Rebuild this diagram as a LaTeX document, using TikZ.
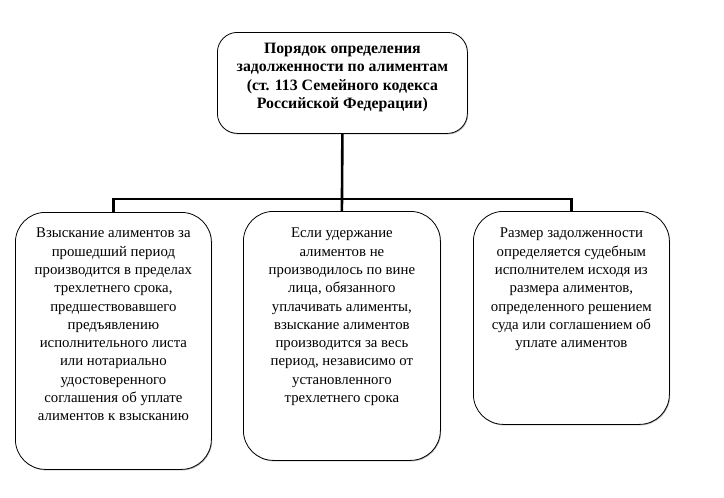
\documentclass[tikz,border=0pt]{standalone}
\usepackage{fontspec}
\setmainfont{Liberation Serif}
\usetikzlibrary{shadows}
\begin{document}
\begin{tikzpicture}[x=1pt,y=-1pt,
  box/.style={draw=black, line width=0.8pt, fill=white, rounded corners=#1,
    drop shadow={shadow xshift=0.8pt, shadow yshift=-1pt, fill=black!40, opacity=0.7}},
  box/.default=30pt,
  txt/.style={align=center, inner sep=0pt, font=\fontsize{14.8}{18.3}\selectfont},
  ttxt/.style={align=center, inner sep=0pt, font=\fontsize{15.8}{18.3}\selectfont\bfseries},
  conn/.style={draw=black, line width=2.6pt, line join=miter}]
\useasboundingbox (0,0) rectangle (724,498);
% boxes
\node[box=20pt, minimum width=250pt, minimum height=101pt, anchor=north west] (T) at (217,32) {};
\node[box, minimum width=196pt, minimum height=257pt, anchor=north west] (L) at (15,212) {};
\node[box, minimum width=197pt, minimum height=249pt, anchor=north west] (M) at (243,211) {};
\node[box, minimum width=196pt, minimum height=213pt, anchor=north west] (R) at (473,211) {};
% texts
\node[ttxt, anchor=north] (Tt) at ([yshift=-11pt]T.north)
  {Порядок определения\\задолженности по алиментам\\(ст. 113 Семейного кодекса\\Российской Федерации)};
\node[txt, anchor=north] (Lt) at ([yshift=-16pt]L.north)
  {Взыскание алиментов за\\прошедший период\\производится в пределах\\трехлетнего срока,\\предшествовавшего\\предъявлению\\исполнительного листа\\или нотариально\\удостоверенного\\соглашения об уплате\\алиментов к взысканию};
\node[txt, anchor=north] (Mt) at ([yshift=-17pt]M.north)
  {Если удержание\\алиментов не\\производилось по вине\\лица, обязанного\\уплачивать алименты,\\взыскание алиментов\\производится за весь\\период, независимо от\\установленного\\трехлетнего срока};
\node[txt, anchor=north] (Rt) at ([yshift=-17pt]R.north)
  {Размер задолженности\\определяется судебным\\исполнителем исходя из\\размера алиментов,\\определенного решением\\суда или соглашением об\\уплате алиментов};
% connectors
\coordinate (bus) at (341,199);
\draw[conn] (T.south) -- (M.north);
\draw[conn] (L.north) |- (R.north |- bus) -- (R.north);
\end{tikzpicture}
\end{document}
